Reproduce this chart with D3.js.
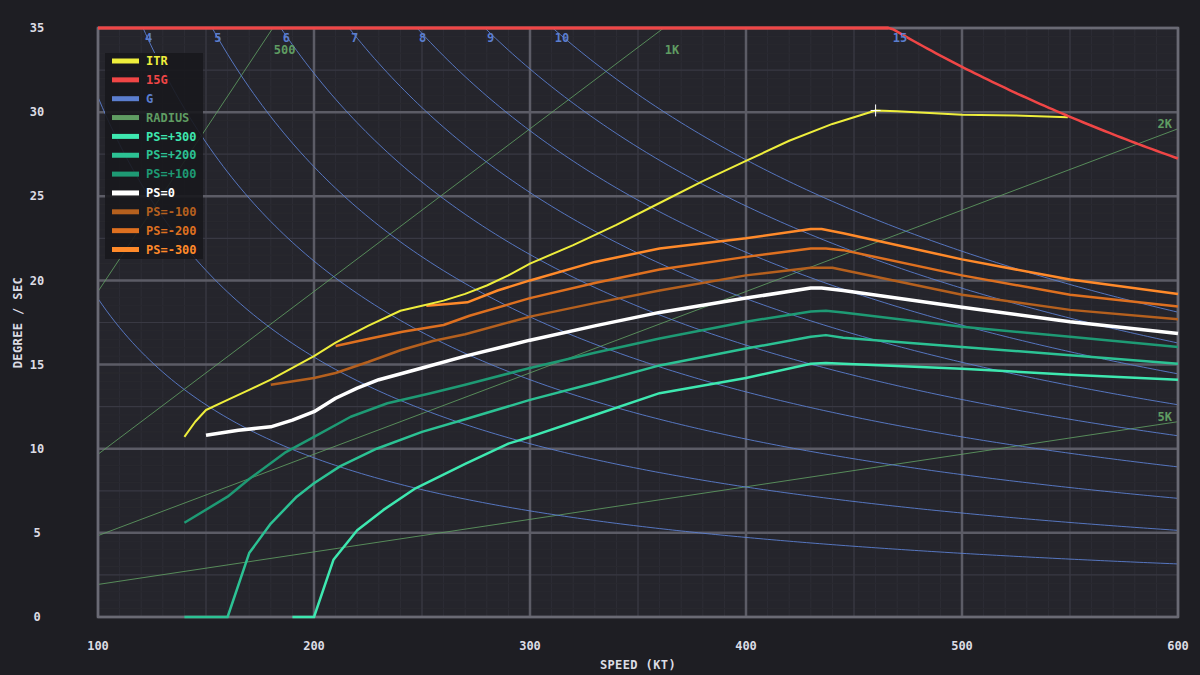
<!DOCTYPE html>
<meta charset="utf-8">
<head>
<title>Turn rate / speed diagram</title>
<script src="https://cdn.jsdelivr.net/npm/d3@7"></script>
<style>
body { margin:0; background:#1e1e23; }
text { font-family:"DejaVu Sans Mono", monospace; font-weight:bold; }
</style>
</head>
<body>
<svg id=mySVG width=1200 height=675></svg>
<script>
// ---- data (speed kt, degree/sec) ----
var itrSpeed = [140,145,150,160,170,180,190,200,210,225,240,250,260,270,280,290,300,320,340,360,380,400,420,440,460,470,500,525,549]
var itrRate  = [10.7,11.6,12.3,12.9,13.5,14.1,14.8,15.5,16.3,17.3,18.2,18.5,18.8,19.2,19.7,20.3,21.0,22.1,23.3,24.6,25.9,27.1,28.3,29.3,30.1,30.05,29.85,29.8,29.7]

var ps300Speed = [190,200,209,220,232,247,270,290,300,330,360,400,430,437,445,500,550,600]
var ps300Rate  = [0,0,3.4,5.15,6.35,7.65,9.1,10.3,10.7,12.0,13.3,14.2,15.05,15.1,15.05,14.75,14.4,14.1]

var ps200Speed = [140,160,170,180,192,200,212,229,250,270,300,330,360,400,430,437,445,500,550,600]
var ps200Rate  = [0,0,3.8,5.55,7.15,7.95,8.95,10.0,11.0,11.75,12.9,13.9,14.95,15.95,16.65,16.75,16.6,16.05,15.55,15.05]

var ps100Speed = [140,160,170,187,200,217,234,254,270,300,330,360,400,430,437,445,500,550,600]
var ps100Rate  = [5.6,7.15,8.2,9.8,10.7,11.9,12.7,13.3,13.8,14.8,15.7,16.55,17.55,18.15,18.2,18.1,17.25,16.65,16.05]

var ps0Speed = [150,165,180,190,200,210,220,230,250,270,300,330,360,400,430,435,445,500,550,600]
var ps0Rate  = [10.8,11.1,11.3,11.7,12.2,13.0,13.6,14.1,14.8,15.5,16.45,17.3,18.1,18.95,19.55,19.55,19.4,18.4,17.55,16.85]

var psM100Speed = [180,200,210,225,240,255,270,300,330,360,400,430,440,500,550,600]
var psM100Rate  = [13.8,14.2,14.5,15.15,15.85,16.4,16.8,17.85,18.65,19.4,20.3,20.75,20.75,19.15,18.25,17.7]

var psM200Speed = [210,226,241,260,272,300,330,360,400,430,437,445,500,550,600]
var psM200Rate  = [16.1,16.55,16.95,17.35,17.9,18.95,19.85,20.65,21.4,21.9,21.9,21.8,20.3,19.15,18.45]

var psM300Speed = [252,262,271,285,300,330,360,400,430,435,445,500,550,600]
var psM300Rate  = [18.5,18.6,18.7,19.4,20.0,21.1,21.9,22.5,23.05,23.05,22.8,21.25,20.05,19.2]

// iso-lines: load factor (G) and turn radius (ft)
var gLoads = [2,3,4,5,6,7,8,9,10,15]
var limitLoad = 15
var radii = [500,1000,2000,5000]
var radiusLabels = ["500","1K","2K","5K"]

var xTicks = [100,200,300,400,500,600]
var yTicks = [0,5,10,15,20,25,30,35]

var legendNames  = ["ITR","15G","G","RADIUS","PS=+300","PS=+200","PS=+100","PS=0","PS=-100","PS=-200","PS=-300"]
var legendColors = ["#eeee3c","#f04646","#5b7ecf","#5f9c62","#3ee8b0","#2cc294","#1e9a74","#ffffff","#b5601e","#de7020","#ff8a2a"]

// ---- layout ----
var pLeft=98, pRight=1178, pTop=28, pBottom=617
var svg=d3.select("#mySVG")
var x=d3.scaleLinear().domain([100,600]).range([pLeft,pRight])
var y=d3.scaleLinear().domain([0,35]).range([pBottom,pTop])

var G_K=1092.2     // deg/s * kt per unit tan(bank)
var R_K=96.71      // deg/s * ft per kt

svg.append("rect").attr("width",1200).attr("height",675).attr("fill","#1e1e23")
svg.append("rect").attr("x",pLeft).attr("y",pTop).attr("width",pRight-pLeft).attr("height",pBottom-pTop).attr("fill","#25252c")

var defs=svg.append("defs")
defs.append("clipPath").attr("id","plotClip")
  .append("rect").attr("x",pLeft).attr("y",pTop).attr("width",pRight-pLeft).attr("height",pBottom-pTop)
defs.append("clipPath").attr("id","seriesClip")
  .append("rect").attr("x",pLeft).attr("y",pTop).attr("width",pRight-pLeft+2).attr("height",pBottom-pTop+3)

//---grid---
var grid=svg.append("g")
function vLines(step,color,w){
  grid.append("g").selectAll("line").data(d3.range(100,600.1,step)).join("line")
   .attr("x1",d=>x(d)).attr("x2",d=>x(d)).attr("y1",pTop).attr("y2",pBottom)
   .attr("stroke",color).attr("stroke-width",w)
}
function hLines(step,color,w){
  grid.append("g").selectAll("line").data(d3.range(0,35.01,step)).join("line")
   .attr("y1",d=>y(d)).attr("y2",d=>y(d)).attr("x1",pLeft).attr("x2",pRight)
   .attr("stroke",color).attr("stroke-width",w)
}
vLines(10,"#2d2d36",1)
hLines(0.5,"#29292f",1)
vLines(50,"#393943",1.2)
hLines(2.5,"#393943",1.2)
vLines(100,"#5c5c66",2.5)
hLines(5,"#5c5c66",2.5)

var plot=svg.append("g").attr("clip-path","url(#plotClip)")
var speeds=d3.range(60,601,2)
var line=d3.line().x(d=>x(d[0])).y(d=>y(d[1]))

//---radius lines---
radii.forEach(function(r){
  plot.append("path").datum([[0,0],[600,R_K*600/r]])
   .attr("d",line).attr("fill","none").attr("stroke","#5f9c62").attr("stroke-width",1).attr("opacity",0.85)
})
//---G lines---
gLoads.forEach(function(n){
  var k=G_K*Math.sqrt(n*n-1)
  plot.append("path").datum(speeds.map(v=>[v,k/v]))
   .attr("d",line).attr("fill","none").attr("stroke","#5b7ecf").attr("stroke-width",1).attr("opacity",0.9)
})

//---frame---
svg.append("rect").attr("x",pLeft).attr("y",pTop).attr("width",pRight-pLeft).attr("height",pBottom-pTop)
  .attr("fill","none").attr("stroke","#6a6a74").attr("stroke-width",2.5)

//---PS curves---
var curves=svg.append("g").attr("clip-path","url(#seriesClip)")
var series=[
 [ps300Speed,ps300Rate,"#3ee8b0",2.5],
 [ps200Speed,ps200Rate,"#2cc294",2.5],
 [ps100Speed,ps100Rate,"#1e9a74",2.5],
 [psM100Speed,psM100Rate,"#b5601e",2.5],
 [psM200Speed,psM200Rate,"#de7020",2.5],
 [psM300Speed,psM300Rate,"#ff8a2a",2.5],
 [ps0Speed,ps0Rate,"#ffffff",3.5],
 [itrSpeed,itrRate,"#eeee3c",2]
]
series.forEach(function(s){
  curves.append("path").datum(s[0].map((v,i)=>[v,s[1][i]]))
   .attr("d",line).attr("fill","none").attr("stroke",s[2]).attr("stroke-width",s[3]).attr("stroke-linejoin","round")
})

//---15G limit---
var kLim=G_K*Math.sqrt(limitLoad*limitLoad-1)
var limitPts=d3.range(100,601,2).map(v=>[v,Math.min(35,kLim/v)])
svg.append("path").datum(limitPts)
  .attr("d",line).attr("fill","none").attr("stroke","#f04646").attr("stroke-width",2.5)
svg.append("path").datum(limitPts.filter(d=>d[1]>=35))
  .attr("d",line).attr("fill","none").attr("stroke","#f04646").attr("stroke-width",3)

//---ITR peak marker---
var iMax=d3.maxIndex(itrRate)
var mx=x(itrSpeed[iMax]), my=y(itrRate[iMax])
svg.append("path").attr("d","M"+(mx-5)+","+my+"H"+(mx+5)+"M"+mx+","+(my-6)+"V"+(my+6))
  .attr("stroke","#ffffff").attr("stroke-width",1)

//---iso labels---
var labels=svg.append("g").attr("font-size",12)
gLoads.forEach(function(n){
  var v=G_K*Math.sqrt(n*n-1)/35
  if(v<100) return
  labels.append("text").text(n).attr("x",x(v)+2).attr("y",y(35)+10).attr("dy","0.35em")
   .attr("fill","#5b7ecf")
})
radii.forEach(function(r,i){
  var v=35*r/R_K
  if(v<=600)
    labels.append("text").text(radiusLabels[i]).attr("x",x(v)+1).attr("y",y(35)+22).attr("dy","0.35em").attr("fill","#5f9c62")
  else
    labels.append("text").text(radiusLabels[i]).attr("x",pRight-6).attr("y",y(R_K*600/r)-5).attr("dy","0.35em")
     .attr("text-anchor","end").attr("fill","#5f9c62")
})

//---axes---
var ax=svg.append("g").attr("font-size",12).attr("fill","#dcdce4")
ax.selectAll(".xt").data(xTicks).join("text").attr("class","xt")
  .attr("x",d=>x(d)).attr("y",646).attr("dy","0.35em").attr("text-anchor","middle").text(d=>d)
ax.selectAll(".yt").data(yTicks).join("text").attr("class","yt")
  .attr("x",37).attr("y",d=>y(d)).attr("dy","0.35em").attr("text-anchor","middle").text(d=>d)
ax.append("text").text("SPEED (KT)").attr("x",(pLeft+pRight)/2).attr("y",665).attr("dy","0.35em")
  .attr("text-anchor","middle").attr("letter-spacing",0.4)
ax.append("text").text("DEGREE / SEC").attr("transform","translate(18,"+((pTop+pBottom)/2)+") rotate(-90)")
  .attr("dy","0.35em").attr("text-anchor","middle").attr("letter-spacing",0.4)

//---legend---
var lg=svg.append("g")
lg.append("rect").attr("x",105).attr("y",53).attr("width",98).attr("height",206)
  .attr("fill","#18181d").attr("opacity",0.9)
legendNames.forEach(function(name,i){
  var ly=61+i*18.85
  lg.append("line").attr("x1",112).attr("x2",139).attr("y1",ly).attr("y2",ly)
   .attr("stroke",legendColors[i]).attr("stroke-width",5)
  lg.append("text").text(name).attr("x",146).attr("y",ly).attr("dy","0.35em")
   .attr("font-size",12).attr("fill",legendColors[i])
})
</script>
</body>
